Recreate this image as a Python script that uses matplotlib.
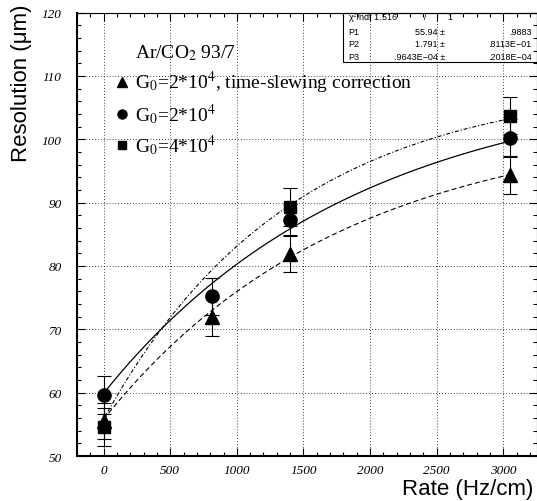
import numpy as np
import matplotlib
matplotlib.use("Agg")
import matplotlib.pyplot as plt
from matplotlib.lines import Line2D
from matplotlib.patches import Rectangle
from matplotlib.ticker import MultipleLocator

plt.rcParams["mathtext.fontset"] = "stix"

# measured points (rate in Hz/cm, resolution in um)
rate_tri = [0, 810, 1400, 3050]
res_tri = [55.5, 71.9, 81.9, 94.4]
err_tri = [2.8, 3.0, 2.9, 3.0]

rate_circ = [0, 810, 1400, 3050]
res_circ = [59.7, 75.2, 87.3, 100.2]
err_circ = [3.0, 2.9, 2.4, 3.0]

rate_sq = [0, 1400, 3050]
res_sq = [54.6, 89.3, 103.7]
err_sq = [3.0, 3.0, 2.9]

# fit parameters: offset, amplitude, scale  ->  a + b*(1-exp(-x/c))
fit_tri = [55.8, 47.3, 1800]
fit_circ = [59.9, 49.8, 1900]
fit_sq = [55.8, 53.5, 1400]

labels = ["G$_0$=2*10$^4$, time-slewing correction", "G$_0$=2*10$^4$", "G$_0$=4*10$^4$"]
stats_names = ["P1", "P2", "P3"]
stats_vals = ["55.94 \u00b1", "1.791 \u00b1", ".9643E\u221204 \u00b1"]
stats_errs = [".9883", ".8113E\u221201", ".2018E\u221204"]


def fit(p, x):
    return p[0] + p[1] * (1 - np.exp(-x / p[2]))


fig = plt.figure(figsize=(5.37, 5.02), dpi=100)
ax = fig.add_axes([77 / 537, 45 / 502, (536.5 - 77) / 537, 443.5 / 502])

xf = np.linspace(0, 3050, 200)
ax.plot(xf, fit(fit_tri, xf), color="black", lw=0.8, dashes=(4.5, 2.7))
ax.plot(xf, fit(fit_circ, xf), color="black", lw=0.9, ls="-")
ax.plot(xf, fit(fit_sq, xf), color="black", lw=0.8, dashes=(3.5, 1.8, 1, 1.8))

ekw = dict(color="black", ecolor="black", elinewidth=0.8, capsize=4.7, capthick=0.8, ls="none")
ax.errorbar(rate_tri, res_tri, yerr=err_tri, marker="^", ms=10, **ekw)
ax.errorbar(rate_circ, res_circ, yerr=err_circ, marker="o", ms=9.5, **ekw)
ax.errorbar(rate_sq, res_sq, yerr=err_sq, marker="s", ms=8.5, **ekw)

ax.set_xlim(-200, 3250)
ax.set_ylim(50, 120)
ax.xaxis.set_major_locator(MultipleLocator(500))
ax.xaxis.set_minor_locator(MultipleLocator(100))
ax.yaxis.set_major_locator(MultipleLocator(10))
ax.yaxis.set_minor_locator(MultipleLocator(2))
ax.tick_params(which="both", direction="in", top=True, right=True, width=0.8)
ax.tick_params(which="major", length=6)
ax.tick_params(which="minor", length=3)
ax.tick_params(axis="y", pad=11)
ax.tick_params(axis="x", pad=6)
for lab in ax.get_xticklabels() + ax.get_yticklabels():
    lab.set_family("Liberation Serif")
    lab.set_style("italic")
    lab.set_fontsize(9.5)
ax.grid(True, which="major", color="black", lw=0.6, dashes=(1, 2.5))
for side in ["left", "bottom"]:
    ax.spines[side].set_linewidth(1.5)
for side in ["top", "right"]:
    ax.spines[side].set_linewidth(0.8)

fig.text(22 / 537, 1 - 4 / 502, "Resolution (\u03bcm)", rotation=90, ha="center", va="top",
         family="Liberation Sans", fontsize=16)
fig.text(533 / 537, 1 - 490 / 502, "Rate (Hz/cm)", ha="right", va="center",
         family="Liberation Sans", fontsize=16)

# legend
ax.text(0.127, 0.8997, "Ar/CO$_2$ 93/7", transform=ax.transAxes, va="baseline", ha="left",
        family="Liberation Serif", fontsize=14)
handles = [Line2D([], [], color="black", marker=m, ls="none", ms=s)
           for m, s in zip(["^", "o", "s"], [6.5, 6.5, 6])]
leg = ax.legend(handles, labels, loc="upper left", bbox_to_anchor=(0.077, 0.872),
                frameon=False, handlelength=1.0, handletextpad=0.15, labelspacing=0.32,
                borderpad=0, borderaxespad=0, prop={"family": "Liberation Serif", "size": 14})

# stats box
ax.add_patch(Rectangle((0.579, 0.888), 0.421, 0.112, transform=ax.transAxes,
                       fill=False, edgecolor="black", lw=0.8, clip_on=False))
sfont = dict(family="Liberation Sans", fontsize=6.5, transform=ax.transAxes, va="center")
ax.text(0.590, 0.990, "\u03c7$^2$/ndf 1.516", ha="left", **sfont)
ax.text(0.755, 0.990, "/", ha="left", **sfont)
ax.text(0.805, 0.990, "1", ha="left", **sfont)
for i, (n, v, e) in enumerate(zip(stats_names, stats_vals, stats_errs)):
    yy = 0.958 - i * 0.0285
    ax.text(0.590, yy, n, ha="left", **sfont)
    ax.text(0.801, yy, v, ha="right", **sfont)
    ax.text(0.9895, yy, e, ha="right", **sfont)

fig.savefig("out.png", dpi=100)
